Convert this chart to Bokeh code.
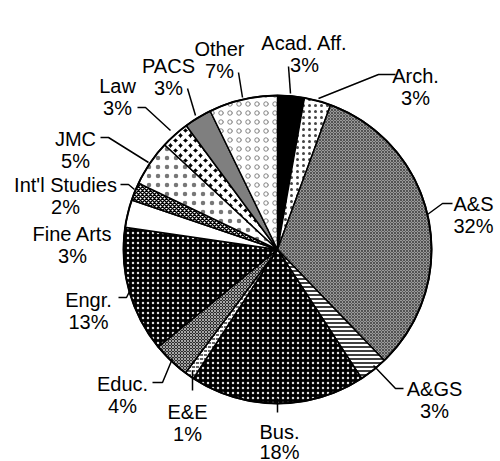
import math
from bokeh.plotting import figure
from bokeh.models import Range1d, ColumnDataSource
from bokeh.core.properties import value
from bokeh.embed import file_html
from bokeh.resources import INLINE

# ---- data ----
categories = ["Acad. Aff.", "Arch.", "A&S", "A&GS", "Bus.", "E&E", "Educ.",
              "Engr.", "Fine Arts", "Int'l Studies", "JMC", "Law", "PACS", "Other"]
shares = [2.8, 2.8, 32.2, 3.0, 18.4, 1.0, 3.9, 13.2, 2.9, 1.9, 4.8, 3.0, 2.9, 7.2]

# ---- styles (fill, hatch pattern, hatch color, hatch scale, hatch weight) ----
styles = [
    ("black", None, "black", 6, 1),
    ("white", "dot", "#444444", 6, 0.8),
    ("#9a9a9a", "diagonal_cross", "#333333", 3, 0.7),
    ("white", "horizontal_line", "black", 4, 1.5),
    ("black", "dot", "#e0e0e0", 5, 0.7),
    ("white", "horizontal_dash", "black", 4, 1.2),
    ("#2a2a2a", "diagonal_cross", "#dddddd", 3, 0.7),
    ("black", "dot", "#e0e0e0", 5, 0.7),
    ("white", None, "black", 6, 1),
    ("white", "diagonal_cross", "black", 4, 1.5),
    ("white", "dot", "#777777", 9, 0.7),
    ("black", "diagonal_cross", "white", 10, 4),
    ("#7f7f7f", None, "black", 6, 1),
    ("white", "ring", "#555555", 9, 0.7),
]

# ---- layout: label positions (screen px: center x, first-line baseline, line gap) ----
label_pos = [(304, 42, 22), (415, 75, 22), (473, 203, 22), (434, 388, 22),
             (279, 431, 20), (187, 411, 22), (122, 383, 22), (88, 299, 22),
             (72, 233, 22), (65, 184, 22), (75, 138, 22), (117, 85, 22),
             (168, 65, 22), (219, 48, 22)]
leaders = [
    [(288, 66), (290, 93)],
    [(395, 74), (378, 74), (318, 98)],
    [(452, 203), (442, 203), (427, 214)],
    [(403, 388), (395, 388), (373, 365)],
    [(277, 412), (277, 398)],
    [(192, 390), (192, 370)],
    [(152, 382), (162, 382), (172, 358)],
    [(118, 297), (126, 297), (130, 289)],
    None,
    [(120, 184), (128, 184), (134, 189)],
    [(100, 137), (108, 137), (148, 162)],
    [(137, 107), (145, 107), (170, 130)],
    [(187, 88), (195, 115)],
    [(238, 72), (242, 97)],
]

CX, CY, R = 277, 249, 154
W, H = 500, 461

p = figure(width=W, height=H, output_backend="svg", toolbar_location=None,
           x_range=Range1d(0, W), y_range=Range1d(-H, 0),
           x_axis_type=None, y_axis_type=None,
           min_border=0, min_border_left=0, min_border_right=0,
           min_border_top=0, min_border_bottom=0)
p.grid.visible = False
p.outline_line_color = None
p.background_fill_color = "white"

total = sum(shares)
cum = 0.0
for v, st in zip(shares, styles):
    a0 = math.pi / 2 - 2 * math.pi * (cum + v) / total
    a1 = math.pi / 2 - 2 * math.pi * cum / total
    cum += v
    fill, hp, hc, hs, hw = st
    kw = dict(x=CX, y=-CY, radius=R, start_angle=a0, end_angle=a1,
              fill_color=fill, line_color="black", line_width=1.5)
    if hp:
        kw.update(hatch_pattern=hp, hatch_color=hc, hatch_scale=hs, hatch_weight=hw)
    p.wedge(**kw)

p.circle(x=CX, y=-CY, radius=R, fill_color=None, line_color="black", line_width=2)

xs, ys = [], []
for ld in leaders:
    if ld:
        xs.append([q[0] for q in ld])
        ys.append([-q[1] for q in ld])
p.multi_line(xs=xs, ys=ys, line_color="black", line_width=1.5)

pct = ["%d%%" % round(v * 100 / total) for v in shares]
src = ColumnDataSource(dict(
    x=[q[0] for q in label_pos] * 2,
    y=[-q[1] for q in label_pos] + [-(q[1] + q[2]) for q in label_pos],
    t=categories + pct))
p.text(x="x", y="y", text="t", source=src, text_font=value("Liberation Sans"),
       text_font_size="20px", text_align="center", text_baseline="alphabetic",
       text_color="black")

open("out.html", "w").write(file_html(p, INLINE))
